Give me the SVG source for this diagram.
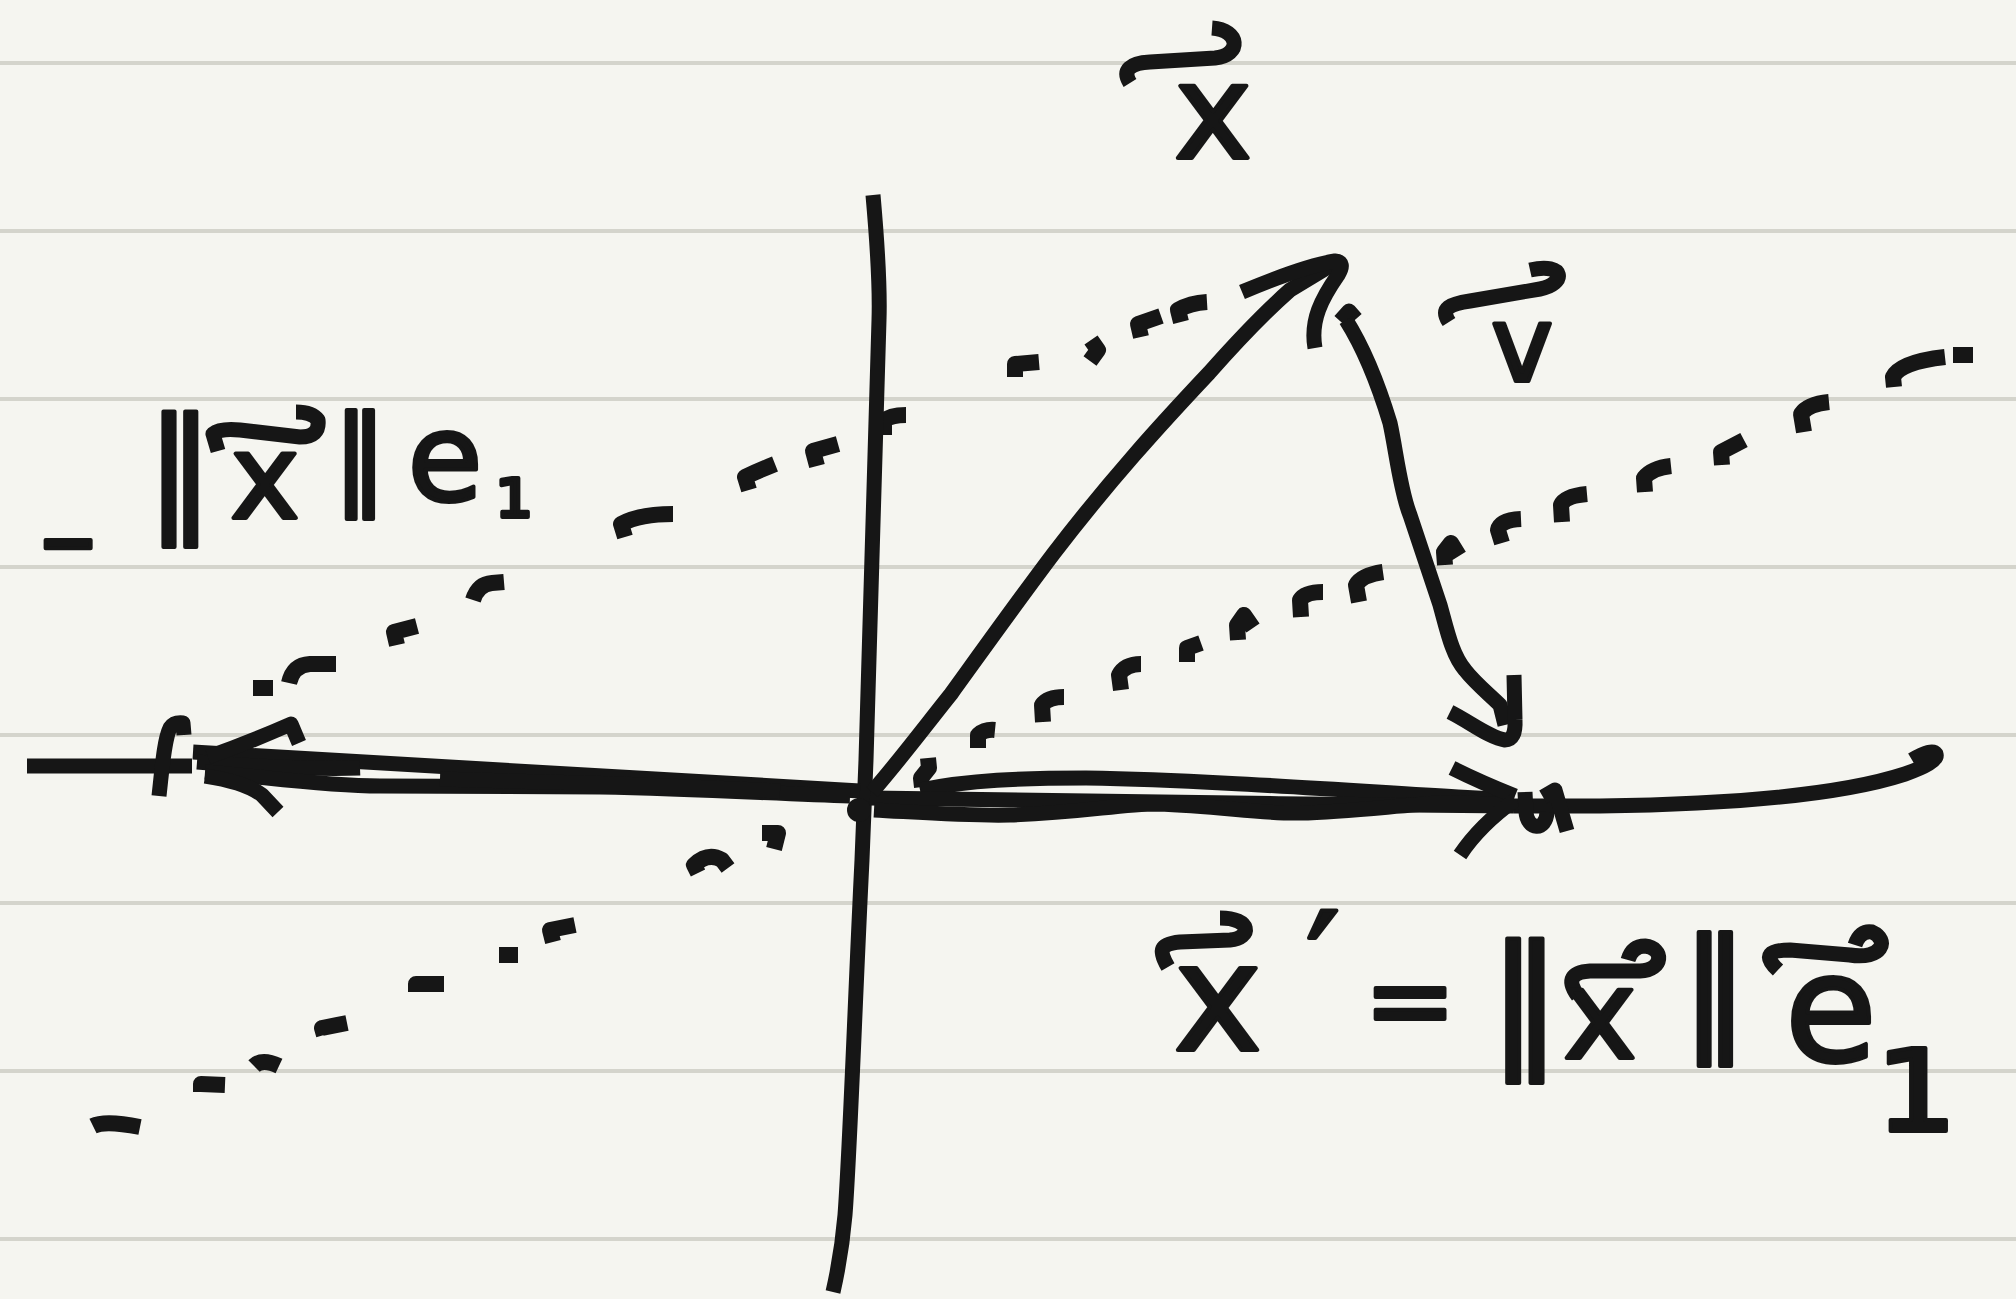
<svg xmlns="http://www.w3.org/2000/svg" width="2016" height="1299" viewBox="0 0 2016 1299">
<style>
.rule{stroke:#d4d4cc;stroke-width:4}
.ink{fill:none;stroke:#161616;stroke-width:15;stroke-linejoin:round;stroke-linecap:butt}
.dash{fill:none;stroke:#161616;stroke-width:16;stroke-linejoin:round;stroke-linecap:butt}
.t{font-family:"DejaVu Sans","Liberation Sans",sans-serif;fill:#161616;stroke:#161616;stroke-width:4;stroke-linejoin:round}
</style>
<rect width="2016" height="1299" fill="#f5f5f0"/>
<g id="ruled-paper">
<line class="rule" x1="0" y1="63" x2="2016" y2="63"/>
<line class="rule" x1="0" y1="231" x2="2016" y2="231"/>
<line class="rule" x1="0" y1="399" x2="2016" y2="399"/>
<line class="rule" x1="0" y1="567" x2="2016" y2="567"/>
<line class="rule" x1="0" y1="735" x2="2016" y2="735"/>
<line class="rule" x1="0" y1="903" x2="2016" y2="903"/>
<line class="rule" x1="0" y1="1071" x2="2016" y2="1071"/>
<line class="rule" x1="0" y1="1239" x2="2016" y2="1239"/>
</g>
<g id="dotted-line-a">
<path class="dash" d="M253,688 L273,688" stroke-width="18"/>
<path class="dash" d="M289,683 Q293,665 310,664 L336,664"/>
<path class="dash" d="M397,645 L394,632 L417,626"/>
<path class="dash" d="M473,600 Q478,584 492,583 L504,582"/>
<path class="dash" d="M625,537 L621,524 Q640,514 673,514"/>
<path class="dash" d="M749,490 L745,477 Q760,470 775,464"/>
<path class="dash" d="M817,466 L813,451 L838,444"/>
<path class="dash" d="M884,435 L884,421 Q890,415 906,415"/>
<path class="dash" d="M1015,377 L1015,364 L1039,362"/>
<path class="dash" d="M1091,340 L1098,350 L1090,361"/>
<path class="dash" d="M1141,337 L1138,324 L1161,316"/>
<path class="dash" d="M1181,322 L1178,310 Q1190,303 1207,302"/>
</g>
<g id="dotted-line-b">
<path class="dash" d="M93,1126 Q105,1120 140,1127"/>
<path class="dash" d="M201,1092 L201,1084 L225,1085"/>
<path class="dash" d="M254,1066 Q262,1058 279,1066"/>
<path class="dash" d="M324,1035 L322,1028 L347,1023"/>
<path class="dash" d="M416,992 L416,984 L444,984"/>
<path class="dash" d="M499,955 L518,955" stroke-width="17"/>
<path class="dash" d="M553,942 L550,930 L575,925"/>
<path class="dash" d="M698,873 L694,865 Q708,852 722,860 L728,868"/>
<path class="dash" d="M762,833 L778,833 L774,849"/>
<path class="dash" d="M928,758 L929,768 L921,778 L922,787" stroke-width="14"/>
<path class="dash" d="M978,748 L978,735 Q985,729 995,730"/>
<path class="dash" d="M1043,722 L1042,705 Q1048,697 1064,697"/>
<path class="dash" d="M1121,690 L1119,675 Q1125,664 1141,664"/>
<path class="dash" d="M1187,662 L1187,648 L1201,643"/>
<path class="dash" d="M1238,640 L1237,625 L1244,615 L1253,628"/>
<path class="dash" d="M1301,617 L1300,600 Q1305,592 1323,592"/>
<path class="dash" d="M1359,602 L1356,585 Q1362,575 1383,572"/>
<path class="dash" d="M1445,565 L1444,552 L1451,543 L1459,556"/>
<path class="dash" d="M1502,543 L1498,530 Q1500,520 1521,519"/>
<path class="dash" d="M1562,522 L1561,505 Q1565,496 1587,494"/>
<path class="dash" d="M1645,492 L1644,478 Q1652,468 1671,466"/>
<path class="dash" d="M1722,465 L1721,452 L1744,440"/>
<path class="dash" d="M1804,432 L1801,414 Q1808,404 1829,402"/>
<path class="dash" d="M1894,387 L1893,377 Q1900,362 1945,357"/>
<path class="dash" d="M1953,355 L1973,355" stroke-width="18"/>
</g>
<g id="axes">
<path class="ink" d="M873,195 C877,240 880,290 879,320 L866,760 L862,860 C855,1000 850,1150 845,1215 C842,1250 838,1270 833,1292"/>
<path class="ink" d="M27,766 L192,766"/>
<path class="ink" d="M159,796 C162,770 164,740 170,728 Q174,722 183,723 L184,735"/>
<path class="ink" d="M1514,806 L1600,806 C1750,804 1850,792 1905,774 C1925,767 1938,760 1936,754 Q1932,748 1912,760" stroke-width="16"/>
</g>
<g id="connectors">
<g id="arrow-neg-norm-e1">
<path class="ink" d="M193,752 C350,762 600,777 860,791" stroke-width="16"/>
<path class="ink" d="M197,762 C250,766 310,770 360,768" stroke-width="14"/>
<path class="ink" d="M205,772 C260,776 320,786 380,786 L600,787 C700,789 780,794 850,796" stroke-width="16"/>
<path class="ink" d="M440,779 L620,784 L780,791" stroke-width="12"/>
<path class="ink" d="M208,757 Q250,742 291,724 L299,743"/>
<path class="ink" d="M205,776 Q245,782 262,795 L278,812" stroke-linecap="round"/>
<circle cx="859" cy="810" r="12" fill="#161616"/>
</g>
<g id="arrow-x-prime">
<path class="ink" d="M920,790 C970,780 1020,778 1086,778 C1200,780 1310,788 1458,797 L1514,800" stroke-width="16"/>
<path class="ink" d="M870,798 C1000,801 1300,804 1514,806" stroke-width="16"/>
<path class="ink" d="M874,810 C930,813 970,816 1010,815 C1080,813 1120,804 1157,804 C1220,806 1260,814 1300,813 C1350,812 1400,805 1440,803 L1514,804" stroke-width="16"/>
<path class="ink" d="M1452,768 Q1480,782 1515,796"/>
<path class="ink" d="M1460,855 Q1480,825 1515,800"/>
<path class="ink" d="M1525,792 L1526,812 C1527,830 1546,832 1547,812" stroke-width="14"/>
<path class="ink" d="M1543,797 L1555,790 L1567,831" stroke-width="14"/>
</g>
<g id="vector-x">
<path class="ink" d="M872,792 C900,760 930,720 951,694 C990,640 1020,598 1054,553 C1110,480 1160,425 1209,373 C1240,338 1265,312 1290,290 L1333,264"/>
<path class="ink" d="M1242,292 C1280,276 1310,265 1335,261 Q1346,262 1338,275 C1322,298 1310,320 1315,348"/>
</g>
<g id="vector-v">
<path class="ink" d="M1340,321 L1349,311 L1356,319" stroke-width="13"/>
<path class="ink" d="M1346,320 C1365,350 1380,390 1390,423 C1396,450 1400,490 1410,515 C1420,545 1430,575 1440,605 C1447,630 1452,655 1465,670 C1475,683 1490,695 1500,705 L1505,725"/>
<path class="ink" d="M1450,712 C1470,722 1490,738 1505,740 Q1516,740 1515,720 L1514,675" stroke-width="16" stroke-linecap="round"/>
</g>
</g>
<g id="label-x">
<path class="ink" d="M1130,83 C1122,70 1130,63 1150,62 L1215,58 C1242,55 1240,30 1212,28" stroke-width="16"/>
<text class="t" text-anchor="middle" x="1213" y="158" font-size="132">x</text>
</g>
<g id="label-v">
<path class="ink" d="M1449,322 C1440,308 1450,304 1470,301 L1540,289 C1566,284 1566,262 1530,270" stroke-width="15"/>
<text class="t" text-anchor="middle" x="1522" y="381" font-size="105">v</text>
</g>
<g id="label-neg-norm-e1">
<path class="ink" d="M218,451 L213,434 Q220,428 240,430 L300,437 Q320,437 318,420 Q312,412 296,412" stroke-width="15"/>
<text class="t" text-anchor="middle"><tspan x="68" y="567" font-size="72" font-weight="bold">−</tspan><tspan x="180" y="515" font-size="135">‖</tspan><tspan x="265" y="518" font-size="118">x</tspan><tspan x="360" y="493" font-size="108">‖</tspan><tspan x="445" y="500" font-size="122">e</tspan><tspan x="514" y="517" font-size="95">₁</tspan></text>
</g>
<g id="label-x-prime">
<path class="ink" d="M1168,967 C1158,950 1160,944 1180,942 L1230,940 C1252,938 1252,918 1220,918" stroke-width="16"/>
<path class="ink" d="M1578,996 C1566,980 1572,972 1590,971 L1640,971 C1664,970 1664,948 1645,946 Q1632,946 1628,960" stroke-width="16"/>
<path class="ink" d="M1778,970 C1762,955 1770,950 1790,950 L1850,955 C1882,960 1890,940 1872,932 Q1860,930 1855,945" stroke-width="16"/>
<text class="t" text-anchor="middle"><tspan x="1218" y="1050" font-size="150">x</tspan><tspan x="1323" y="1020" font-size="150">′</tspan><tspan x="1410" y="1038" font-size="110">=</tspan><tspan x="1525" y="1049" font-size="145">‖</tspan><tspan x="1600" y="1058" font-size="125">x</tspan><tspan x="1715" y="1034" font-size="133">‖</tspan><tspan x="1831" y="1061" font-size="150">e</tspan><tspan x="1916" y="1131" font-size="205">₁</tspan></text>
</g>
</svg>
